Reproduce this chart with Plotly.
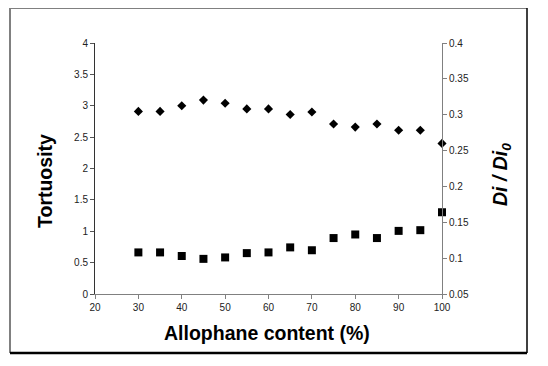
import plotly.graph_objects as go

# data
allophane = [30, 35, 40, 45, 50, 55, 60, 65, 70, 75, 80, 85, 90, 95, 100]
tortuosity = [2.91, 2.91, 3.00, 3.09, 3.04, 2.95, 2.95, 2.86, 2.90, 2.71, 2.66, 2.71, 2.61, 2.61, 2.40]
di_ratio = [0.108, 0.108, 0.103, 0.099, 0.101, 0.107, 0.108, 0.115, 0.111, 0.128, 0.133, 0.128, 0.138, 0.139, 0.164]

W, H = 548, 366
OFF = 8  # page body margin
L, R, T, B = 95, 442, 43, 294  # plot area in page pixels


def px(x):
    return (x - L) / (R - L)


def py(y):
    return (B - y) / (B - T)


tick_font = dict(family='Liberation Sans, Arial', size=10, color='#222')
title_font = dict(family='Liberation Sans, Arial', size=19.5, color='black')

fig = go.Figure()
fig.add_trace(go.Scatter(x=allophane, y=tortuosity, mode='markers', name='Tortuosity', cliponaxis=False,
                         marker=dict(symbol='diamond', size=7, color='black')))
fig.add_trace(go.Scatter(x=allophane, y=di_ratio, mode='markers', name='Di/Di0', yaxis='y2', cliponaxis=False,
                         marker=dict(symbol='square', size=8, color='black')))

fig.update_layout(
    width=W - OFF, height=H - OFF,
    margin=dict(l=L - OFF, r=W - R, t=T - OFF, b=H - B),
    paper_bgcolor='white', plot_bgcolor='white',
    showlegend=False,
    xaxis=dict(range=[20, 100], dtick=10, showgrid=False, zeroline=False,
               showline=True, linecolor='#808080', linewidth=1,
               ticks='outside', ticklen=4, tickcolor='#808080', tickfont=tick_font),
    yaxis=dict(range=[0, 4], dtick=0.5, showgrid=False, zeroline=False,
               showline=True, linecolor='#333', linewidth=1,
               ticks='outside', ticklen=4, tickcolor='#555', tickfont=tick_font),
    yaxis2=dict(range=[0.05, 0.4], dtick=0.05, overlaying='y', side='right',
                showgrid=False, zeroline=False,
                showline=True, linecolor='#808080', linewidth=1,
                ticks='outside', ticklen=4, tickcolor='#808080', tickfont=tick_font),
)

# axis titles
ann = dict(xref='paper', yref='paper', showarrow=False, font=title_font,
           xanchor='center', yanchor='middle')
fig.add_annotation(text='<b>Tortuosity</b>', x=px(45), y=py(181), textangle=-90, **ann)
fig.add_annotation(text='<b><i>Di / Di<sub>0</sub></i></b>', x=px(501), y=py(175), textangle=-90, **ann)
fig.add_annotation(text='<b>Allophane content (%)</b>', x=px(267), y=py(333), **ann)

# outer frame: grey top/left, black bottom/right
frame = dict(type='line', xref='paper', yref='paper')
fig.add_shape(x0=px(10), x1=px(527), y0=py(8), y1=py(8), line=dict(color='#808080', width=2), **frame)
fig.add_shape(x0=px(10), x1=px(10), y0=py(8), y1=py(353), line=dict(color='#808080', width=2), **frame)
fig.add_shape(x0=px(10), x1=px(527), y0=py(353), y1=py(353), line=dict(color='black', width=2.5), **frame)
fig.add_shape(x0=px(527), x1=px(527), y0=py(8), y1=py(353), line=dict(color='black', width=1.5), **frame)

fig.write_html("out.html")
